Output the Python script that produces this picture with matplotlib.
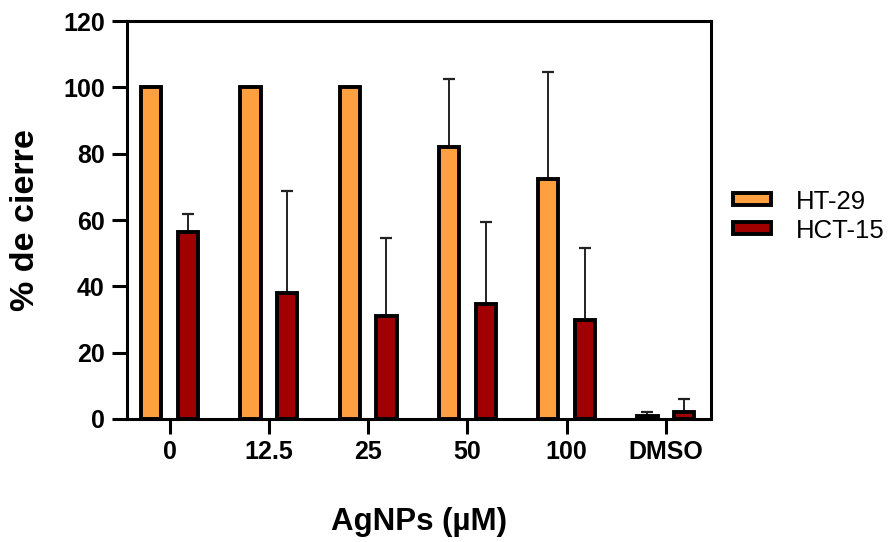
import matplotlib
matplotlib.use("Agg")
import matplotlib.pyplot as plt
import numpy as np

categories = ["0", "12.5", "25", "50", "100", "DMSO"]
ht29 = [100, 100, 100, 82.0, 72.3, 0.8]
ht29_err = [0, 0, 0, 20.6, 32.4, 1.4]
hct15 = [56.5, 38.0, 31.2, 34.7, 30.0, 2.2]
hct15_err = [5.4, 30.8, 23.4, 24.6, 21.5, 3.8]
yticks = [0, 20, 40, 60, 80, 100, 120]

plt.rcParams['font.family'] = ['Liberation Sans', 'DejaVu Sans']

fig = plt.figure(figsize=(8.91, 5.42), dpi=100)
ax = fig.add_axes([0.1425, 0.227, 0.656, 0.734])

x = np.arange(len(categories))
w = 0.205
off = 0.185
ax.bar(x - off, ht29, w, color='#FFA040', edgecolor='black', linewidth=2.8,
       label='HT-29', zorder=3)
ax.bar(x + off, hct15, w, color='#A00000', edgecolor='black', linewidth=2.8,
       label='HCT-15', zorder=3)
ax.errorbar(x - off, ht29, yerr=[np.zeros(len(x)), ht29_err], fmt='none',
            ecolor='#222222', elinewidth=1.4, capsize=4.6, capthick=1.6, zorder=2)
ax.errorbar(x + off, hct15, yerr=[np.zeros(len(x)), hct15_err], fmt='none',
            ecolor='#222222', elinewidth=1.4, capsize=4.6, capthick=1.6, zorder=2)

ax.set_xlim(-0.43, 5.46)
ax.set_ylim(0, 120)
ax.set_yticks(yticks)
ax.set_xticks(x)
ax.set_xticklabels(categories)
for s in ax.spines.values():
    s.set_linewidth(2.2)
ax.tick_params(axis='both', direction='out', length=11, width=2.2,
               labelsize=18)
ax.tick_params(axis='x', pad=4.5)
ax.tick_params(axis='y', pad=5)
for lab in ax.get_xticklabels() + ax.get_yticklabels():
    lab.set_fontweight('bold')

ax.set_ylabel('% de cierre', fontsize=24.5, fontweight='bold', va='center')
ax.yaxis.set_label_coords(-0.173, 0.5)
ax.set_xlabel('AgNPs (µM)', fontsize=22.5, fontweight='bold', va='center')
ax.xaxis.set_label_coords(0.5, -0.258)

leg = ax.legend(loc='center left', bbox_to_anchor=(0.997, 0.51), frameon=False,
                fontsize=18.5, handlelength=1.5, handleheight=0.35,
                handletextpad=0.95, labelspacing=0.2)
for p in leg.get_patches():
    p.set_linewidth(2.8)

fig.savefig('out.png', dpi=100)
